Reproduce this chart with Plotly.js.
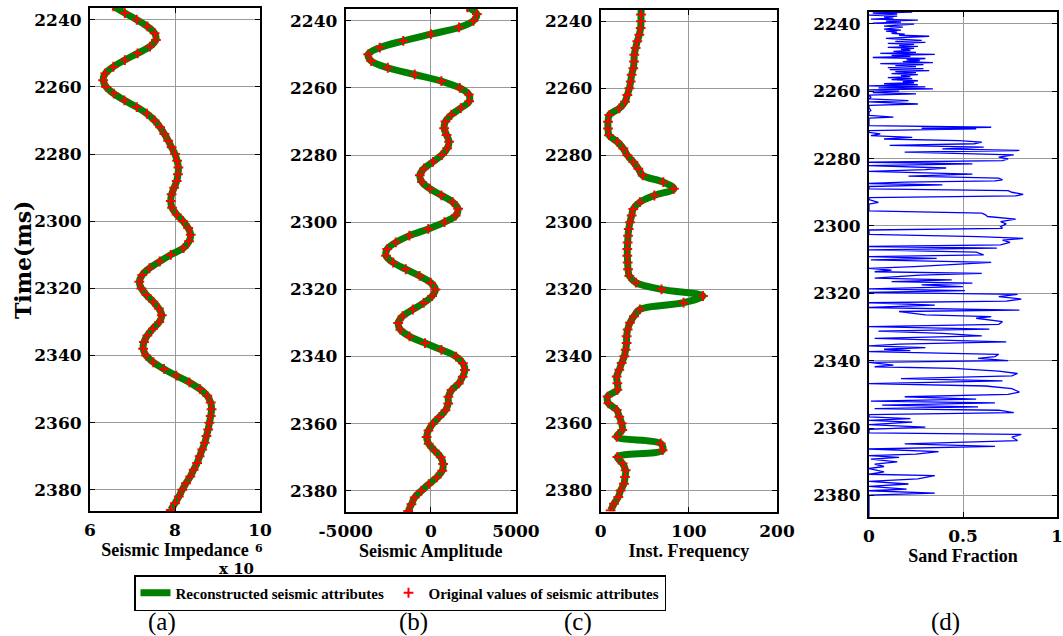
<!DOCTYPE html>
<html>
<head>
<meta charset="utf-8">
<script src="https://cdn.plot.ly/plotly-3.0.1.min.js"></script>
<style>html,body{margin:0;padding:0;background:#fff;}#chart{width:1063px;height:636px;}</style>
</head>
<body>
<div id="chart"></div>
<script>
// ---------------- DATA ----------------
const timeMs = [2236,2238,2240,2242,2244,2246,2248,2250,2252,2254,2256,2258,2260,2262,2264,2266,2268,2270,2272,2274,2276,2278,2280,2282,2284,2286,2288,2290,2292,2294,2296,2298,2300,2302,2304,2306,2308,2310,2312,2314,2316,2318,2320,2322,2324,2326,2328,2330,2332,2334,2336,2338,2340,2342,2344,2346,2348,2350,2352,2354,2356,2358,2360,2362,2364,2366,2368,2370,2372,2374,2376,2378,2380,2382,2384,2386];

// Seismic impedance (x 10^6)
const impedanceE6 = [6.55,6.82,7.10,7.35,7.52,7.55,7.41,7.12,6.82,6.55,6.36,6.31,6.38,6.56,6.81,7.10,7.34,7.52,7.65,7.75,7.84,7.92,8.00,8.05,8.08,8.07,8.04,7.98,7.92,7.90,7.93,8.04,8.19,8.31,8.37,8.33,8.20,7.90,7.64,7.40,7.23,7.16,7.21,7.33,7.49,7.62,7.69,7.63,7.48,7.35,7.27,7.25,7.32,7.49,7.74,8.03,8.34,8.59,8.76,8.84,8.86,8.84,8.81,8.78,8.74,8.70,8.64,8.58,8.52,8.44,8.36,8.26,8.17,8.09,8.00,7.90];

// Seismic amplitude
const amplitude = [2150,2700,2500,1650,0,-1620,-3000,-3680,-3500,-2530,-950,620,1700,2230,2250,1760,1210,860,780,920,1070,960,640,130,-400,-650,-520,-60,620,1280,1600,1460,800,-150,-1260,-2060,-2560,-2630,-2210,-1470,-660,-10,270,70,-420,-1060,-1660,-1920,-1790,-1250,-340,620,1480,1880,2000,1870,1640,1220,1030,1020,860,500,120,-140,-250,-130,220,580,720,670,340,-120,-560,-950,-1140,-1330];

// Instantaneous frequency
const instFrequency = [46,45.7,45.7,45.3,43.8,41.5,39.6,38.1,37.8,37.0,35.1,34.0,32.5,30.2,27.6,21.1,9.8,8.3,8.3,9.4,18.9,25.7,30.2,37.0,42.7,47.6,71,83,60.8,44.5,37.0,35.1,33.2,31.8,31.0,30.6,30.2,30.2,30.6,31.0,32.5,40,69,116,94,44.5,37.8,33.2,30.6,29.4,29.4,28.3,26.8,23.8,21.1,18.1,18.9,18.9,7.9,8.7,18.1,21.1,23.8,24.5,18.1,68,70.2,18.9,24.9,28.3,27.6,26.4,22.6,20,15.1,11.3];

// Sand fraction log (dense)
const sandTime = [2236.5,2236.8,2237.1,2237.4,2237.7,2238.0,2238.3,2238.6,2238.9,2239.2,2239.5,2239.8,2240.1,2240.4,2240.7,2241.0,2241.3,2241.6,2241.9,2242.2,2242.5,2242.8,2243.1,2243.4,2243.7,2244.0,2244.3,2244.6,2244.9,2245.2,2245.5,2245.8,2246.1,2246.4,2246.7,2247.0,2247.3,2247.6,2247.9,2248.2,2248.5,2248.8,2249.1,2249.4,2249.7,2250.0,2250.3,2250.6,2250.9,2251.2,2251.5,2251.8,2252.1,2252.4,2252.7,2253.0,2253.3,2253.6,2253.9,2254.2,2254.5,2254.8,2255.1,2255.4,2255.7,2256.0,2256.3,2256.6,2256.9,2257.2,2257.5,2257.8,2258.1,2258.4,2258.7,2259.0,2259.3,2259.6,2260.0,2260.4,2260.8,2261.2,2261.8,2262.3,2262.8,2263.2,2263.8,2264.2,2265.0,2265.7,2266.2,2267.2,2267.7,2268.0,2270.2,2270.7,2271.0,2271.2,2271.7,2272.2,2272.7,2273.2,2273.7,2274.2,2274.7,2275.1,2275.6,2276.1,2276.6,2277.1,2277.6,2278.1,2278.9,2279.6,2280.1,2280.6,2281.1,2281.6,2282.1,2282.8,2283.3,2283.8,2284.6,2285.2,2285.8,2286.3,2286.6,2287.0,2287.4,2287.8,2288.3,2289.0,2289.5,2290.0,2290.6,2291.1,2291.6,2292.2,2293.0,2293.5,2295.5,2296.2,2296.7,2297.2,2298.0,2298.7,2299.4,2300.2,2300.7,2301.2,2302.5,2303.2,2303.7,2304.2,2304.9,2305.6,2306.1,2306.6,2307.1,2307.8,2308.6,2309.1,2309.6,2310.1,2310.8,2311.4,2312.1,2312.6,2313.1,2313.6,2314.1,2314.6,2315.5,2316.0,2316.5,2317.0,2317.5,2318.0,2318.7,2319.2,2319.7,2320.3,2321.0,2321.7,2322.3,2322.8,2323.5,2324.2,2325.0,2325.4,2326.4,2326.9,2327.4,2328.4,2329.2,2329.9,2330.6,2331.2,2331.9,2332.6,2333.4,2334.4,2335.1,2335.6,2336.1,2336.6,2337.0,2337.3,2338.1,2338.8,2339.3,2340.0,2340.5,2341.3,2341.8,2342.3,2343.1,2343.8,2344.5,2345.3,2346.0,2346.8,2347.5,2348.3,2349.3,2350.0,2350.7,2351.4,2352.0,2352.5,2353.2,2353.7,2354.2,2354.7,2355.4,2356.0,2356.7,2357.2,2357.7,2358.2,2359.0,2359.7,2360.4,2361.4,2361.9,2362.7,2363.7,2364.7,2365.4,2366.2,2367.0,2367.7,2368.2,2368.7,2369.2,2370.0,2370.7,2371.4,2372.0,2373.0,2373.7,2374.1,2375.1,2375.8,2376.6,2377.3,2378.1,2378.6,2379.3,2379.9,2386.5];
const sandFraction = [0.23,0.02,0.15,0.00,0.15,0.08,0.13,0.01,0.26,0.09,0.17,0.02,0.24,0.14,0.08,0.18,0.12,0.08,0.17,0.09,0.15,0.12,0.19,0.16,0.32,0.20,0.09,0.18,0.28,0.14,0.30,0.10,0.24,0.16,0.26,0.10,0.24,0.17,0.22,0.13,0.25,0.06,0.35,0.12,0.22,0.02,0.30,0.20,0.27,0.18,0.34,0.06,0.29,0.14,0.25,0.10,0.29,0.11,0.32,0.14,0.25,0.12,0.26,0.17,0.22,0.10,0.23,0.12,0.26,0.18,0.24,0.08,0.26,0.00,0.30,0.05,0.34,0.00,0.16,0.02,0.25,0.00,0.01,0.00,0.21,0.00,0.26,0.00,0.00,0.01,0.00,0.00,0.13,0.00,0.00,0.65,0.28,0.57,0.00,0.00,0.06,0.01,0.23,0.08,0.48,0.60,0.56,0.11,0.61,0.39,0.80,0.19,0.77,0.69,0.74,0.71,0.00,0.55,0.00,0.41,0.30,0.00,0.55,0.21,0.69,0.71,0.67,0.19,0.00,0.39,0.00,0.00,0.74,0.76,0.82,0.78,0.00,0.00,0.05,0.00,0.00,0.60,0.62,0.63,0.78,0.70,0.73,0.70,0.71,0.00,0.00,0.58,0.82,0.71,0.75,0.70,0.00,0.68,0.00,0.57,0.61,0.00,0.36,0.01,0.65,0.46,0.24,0.00,0.12,0.03,0.60,0.27,0.03,0.44,0.12,0.55,0.28,0.50,0.00,0.51,0.00,0.79,0.69,0.81,0.73,0.00,0.35,0.00,0.80,0.16,0.30,0.65,0.57,0.71,0.69,0.00,0.64,0.05,0.39,0.60,0.03,0.73,0.16,0.00,0.30,0.08,0.22,0.00,0.69,0.67,0.58,0.74,0.00,0.13,0.03,0.45,0.69,0.79,0.76,0.17,0.71,0.00,0.62,0.76,0.80,0.74,0.19,0.57,0.01,0.67,0.07,0.58,0.03,0.69,0.77,0.00,0.00,0.22,0.00,0.23,0.00,0.30,0.00,0.00,0.81,0.76,0.79,0.19,0.67,0.00,0.37,0.25,0.00,0.16,0.01,0.15,0.03,0.08,0.00,0.08,0.00,0.35,0.26,0.00,0.21,0.00,0.20,0.00,0.35,0.00,0.00];

// Tick labels
const timeTicks = [2240,2260,2280,2300,2320,2340,2360,2380];
const timeTickText = ['2240','2260','2280','2300','2320','2340','2360','2380'];
const impTicks = [6,8,10];
const impTickText = ['6','8','10'];
const ampTicks = [-5000,0,5000];
const ampTickText = ['-5000','0','5000'];
const freqTicks = [0,100,200];
const freqTickText = ['0','100','200'];
const sandTicks = [0,0.5,1];
const sandTickText = ['0','0.5','1'];

const xTitles = ['Seismic Impedance','Seismic Amplitude','Inst. Frequency','Sand Fraction'];
const yTitle = 'Time(ms)';
const legendNames = ['Reconstructed seismic attributes','Original values of seismic attributes'];
const panelLabels = ['(a)','(b)','(c)','(d)'];

// ---------------- LAYOUT HELPERS ----------------
const W = 1063, H = 636;
const fx = v => v / W;
const fy = v => 1 - v / H;

const tickFont = {family:'DejaVu Serif', size:17, color:'#000', weight:'bold'};
const titleFont = {family:'Liberation Serif', size:18, color:'#000', weight:'bold'};

function xAxis(dom, range, tv, tt, title, anchor){
  return {
    domain:[fx(dom[0]), fx(dom[1])], range:range, anchor:anchor,
    tickmode:'array', tickvals:tv, ticktext:tt,
    showline:true, linecolor:'#000', linewidth:2, mirror:'ticks',
    ticks:'inside', ticklen:5, tickwidth:1, tickcolor:'#000',
    showgrid:true, gridcolor:'#9a9a9a', gridwidth:1, zeroline:false,
    tickfont:tickFont, ticklabelstandoff:3,
    title:{text:title, font:titleFont, standoff:0}
  };
}
function yAxis(dom, anchor){
  return {
    domain:[fy(dom[1]), fy(dom[0])], range:[2386.3, 2236.5], anchor:anchor,
    tickmode:'array', tickvals:timeTicks, ticktext:timeTickText,
    showline:true, linecolor:'#000', linewidth:2, mirror:'ticks',
    ticks:'inside', ticklen:5, tickwidth:1, tickcolor:'#000',
    showgrid:true, gridcolor:'#9a9a9a', gridwidth:1, zeroline:false,
    tickfont:tickFont, ticklabelstandoff:3
  };
}

// ---------------- TRACES ----------------
const attrs = [impedanceE6, amplitude, instFrequency];
const traces = [];
attrs.forEach((vals, i) => {
  const xa = i === 0 ? 'x' : 'x' + (i + 1);
  const ya = i === 0 ? 'y' : 'y' + (i + 1);
  traces.push({
    type:'scatter', mode:'lines', x:vals, y:timeMs, xaxis:xa, yaxis:ya,
    line:{color:'#008000', width:7, shape:'spline'},
    name:legendNames[0], legendgroup:'rec', showlegend:i === 0, legendwidth:208, hoverinfo:'skip'
  });
});
attrs.forEach((vals, i) => {
  const xa = i === 0 ? 'x' : 'x' + (i + 1);
  const ya = i === 0 ? 'y' : 'y' + (i + 1);
  traces.push({
    type:'scatter', mode:'markers', x:vals, y:timeMs, xaxis:xa, yaxis:ya,
    marker:{symbol:'cross-thin', size:7, color:'#ff0000', line:{color:'#ff0000', width:2}},
    name:legendNames[1], legendgroup:'orig', showlegend:i === 0, hoverinfo:'skip'
  });
});
traces.push({
  type:'scatter', mode:'lines', x:sandFraction, y:sandTime, xaxis:'x4', yaxis:'y4',
  line:{color:'#0000ff', width:1.3}, showlegend:false, name:'Sand Fraction', hoverinfo:'skip'
});

const labelFont = {family:'Liberation Serif', size:25, color:'#000'};
const layout = {
  width:W, height:H, autosize:false,
  margin:{l:0, r:0, t:0, b:0},
  paper_bgcolor:'#fff', plot_bgcolor:'#fff',
  showlegend:true,
  xaxis:  xAxis([90, 260], [6, 10], impTicks, impTickText, xTitles[0], 'y'),
  xaxis2: xAxis([345.7, 516], [-5000, 5000], ampTicks, ampTickText, xTitles[1], 'y2'),
  xaxis3: xAxis([600.7, 777], [0, 200], freqTicks, freqTickText, xTitles[2], 'y3'),
  xaxis4: xAxis([869, 1057], [0, 1], sandTicks, sandTickText, xTitles[3], 'y4'),
  yaxis:  yAxis([8, 511], 'x'),
  yaxis2: yAxis([9, 512], 'x2'),
  yaxis3: yAxis([9.5, 511.5], 'x3'),
  yaxis4: yAxis([12, 516.7], 'x4'),
  legend:{
    orientation:'h', x:fx(134), y:fy(575), xanchor:'left', yanchor:'top',
    bgcolor:'#fff', bordercolor:'#000', borderwidth:1.5,
    font:{family:'Liberation Serif', size:15, color:'#000', weight:'bold'},
    itemwidth:30, traceorder:'normal'
  },
  annotations:[
    {xref:'paper', yref:'paper', x:fx(23), y:fy(260), text:yTitle, textangle:-90, showarrow:false,
     xanchor:'center', yanchor:'middle', font:{family:'DejaVu Serif', size:22, color:'#000', weight:'bold'}},
    {xref:'paper', yref:'paper', x:fx(236), y:fy(569), text:'x 10', showarrow:false, xanchor:'center', yanchor:'middle',
     borderpad:0, font:{family:'DejaVu Serif', size:15, color:'#000', weight:'bold'}},
    {xref:'paper', yref:'paper', x:fx(259), y:fy(548), text:'6', showarrow:false, xanchor:'center', yanchor:'middle',
     borderpad:0, font:{family:'DejaVu Serif', size:11, color:'#000', weight:'bold'}},
    {xref:'paper', yref:'paper', x:fx(162), y:fy(622), text:panelLabels[0], showarrow:false, xanchor:'center', yanchor:'middle', font:labelFont},
    {xref:'paper', yref:'paper', x:fx(413), y:fy(622), text:panelLabels[1], showarrow:false, xanchor:'center', yanchor:'middle', font:labelFont},
    {xref:'paper', yref:'paper', x:fx(578), y:fy(622), text:panelLabels[2], showarrow:false, xanchor:'center', yanchor:'middle', font:labelFont},
    {xref:'paper', yref:'paper', x:fx(945), y:fy(622), text:panelLabels[3], showarrow:false, xanchor:'center', yanchor:'middle', font:labelFont}
  ]
};

Plotly.newPlot('chart', traces, layout, {displayModeBar:false, staticPlot:true});
</script>
</body>
</html>
